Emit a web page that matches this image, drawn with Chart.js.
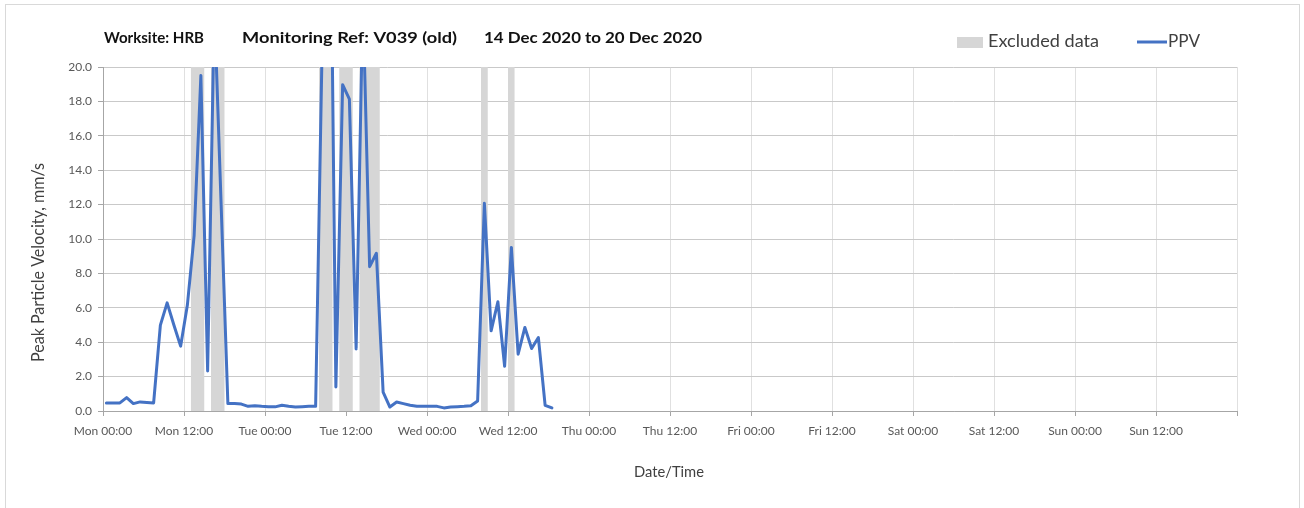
<!DOCTYPE html>
<html>
<head>
<meta charset="utf-8">
<script src="https://cdn.jsdelivr.net/npm/chart.js@4.4.1/dist/chart.umd.min.js"></script>
<style>
  html, body { margin: 0; padding: 0; background: #fff; }
  canvas { display: block; }
</style>
</head>
<body>
<canvas id="ppvChart" width="1304" height="508"></canvas>
<script>
// hours since Mon 00:00, one reading per hour taken at half past
const firstReadingHour = 0.5;
const ppvValues = [
  0.47, 0.47, 0.47, 0.78, 0.43, 0.53, 0.50, 0.47, 4.99, 6.29,
  5.00, 3.77, 6.16, 10.2, 19.5, 2.33, 23.5, 12.0, 0.43, 0.43,
  0.40, 0.27, 0.30, 0.27, 0.25, 0.24, 0.33, 0.27, 0.23, 0.25,
  0.27, 0.27, 22.0, 38.0, 1.40, 18.97, 18.13, 3.61, 24.0, 8.39,
  9.17, 1.10, 0.23, 0.52, 0.43, 0.33, 0.27, 0.27, 0.27, 0.27,
  0.18, 0.23, 0.25, 0.27, 0.30, 0.58, 12.08, 4.66, 6.35, 2.60,
  9.51, 3.30, 4.86, 3.63, 4.27, 0.33, 0.18
];

// excluded data windows (hours since Mon 00:00)
const excludedStart = [13, 16, 32, 35, 38, 56, 60];
const excludedEnd = [15, 18, 34, 37, 41, 57, 61];

const xTickLabels = [
  "Mon 00:00", "Mon 12:00", "Tue 00:00", "Tue 12:00", "Wed 00:00",
  "Wed 12:00", "Thu 00:00", "Thu 12:00", "Fri 00:00", "Fri 12:00",
  "Sat 00:00", "Sat 12:00", "Sun 00:00", "Sun 12:00", ""
];
const yMax = 20;
const yStep = 2;

const titleParts = ["Worksite: HRB", "Monitoring Ref: V039 (old)", "14 Dec 2020 to 20 Dec 2020"];

const FONT = "Lato, 'Open Sans', sans-serif";

const ppvPoints = ppvValues.map((v, i) => ({ x: firstReadingHour + i, y: v }));

const bandPoints = [];
excludedStart.forEach((s, i) => {
  bandPoints.push({ x: s, y: yMax });
  bandPoints.push({ x: excludedEnd[i], y: 0 });
});

// draws text squeezed/stretched to the width it has in the original
function fitText(ctx, text, x, y, width) {
  const w = ctx.measureText(text).width;
  ctx.save();
  ctx.translate(x, y);
  ctx.scale(width / w, 1);
  ctx.fillText(text, 0, 0);
  ctx.restore();
}

// frame, title, legend and axis titles
const decorations = {
  id: "decorations",
  beforeDraw(chart) {
    const ctx = chart.ctx;
    ctx.save();
    ctx.fillStyle = "#fff";
    ctx.fillRect(0, 0, chart.width, chart.height);
    ctx.strokeStyle = "#d9d9d9";
    ctx.lineWidth = 1;
    ctx.strokeRect(5.5, 4.5, 1294, 520);
    ctx.restore();
  },
  afterDraw(chart) {
    const ctx = chart.ctx;
    ctx.save();

    ctx.fillStyle = "#111";
    ctx.font = "bold 16px " + FONT;
    ctx.textBaseline = "middle";
    ctx.textAlign = "left";
    fitText(ctx, titleParts[0], 104, 38, 100);
    fitText(ctx, titleParts[1], 242, 38, 215);
    fitText(ctx, titleParts[2], 484, 38, 218);

    // legend
    ctx.fillStyle = "#d6d6d6";
    ctx.fillRect(957, 37, 26, 11);
    ctx.fillStyle = "#404040";
    ctx.font = "17px " + FONT;
    fitText(ctx, "Excluded data", 988, 42, 111);
    ctx.strokeStyle = "#4472c4";
    ctx.lineWidth = 3;
    ctx.beginPath();
    ctx.moveTo(1137, 42);
    ctx.lineTo(1167, 42);
    ctx.stroke();
    fitText(ctx, "PPV", 1168, 42, 32);

    // axis titles
    ctx.font = "16px " + FONT;
    fitText(ctx, "Date/Time", 634, 472, 70);
    ctx.font = "17px " + FONT;
    ctx.translate(39, 362);
    ctx.rotate(-Math.PI / 2);
    fitText(ctx, "Peak Particle Velocity, mm/s", 0, 0, 199);

    ctx.restore();
  }
};

new Chart(document.getElementById("ppvChart"), {
  type: "line",
  data: {
    datasets: [
      {
        label: "PPV",
        data: ppvPoints,
        borderColor: "#4472c4",
        borderWidth: 3,
        borderJoinStyle: "round",
        borderCapStyle: "round",
        pointRadius: 0,
        tension: 0,
        fill: false,
        order: 0,
      },
      {
        label: "Excluded data",
        data: bandPoints,
        stepped: true,
        borderWidth: 0,
        borderColor: "rgba(0,0,0,0)",
        backgroundColor: "#d6d6d6",
        pointRadius: 0,
        fill: "origin",
        order: 1,
      },
    ],
  },
  options: {
    responsive: false,
    animation: false,
    layout: { padding: { left: 0, top: 67, right: 67, bottom: 0 } },
    plugins: {
      legend: { display: false },
      title: { display: false },
      tooltip: { enabled: false },
    },
    scales: {
      x: {
        type: "linear",
        min: 0,
        max: 168,
        afterFit(scale) {
          scale.height = 97;
        },
        afterBuildTicks(scale) {
          scale.ticks = xTickLabels.map((_, i) => ({ value: i * 12 }));
        },
        ticks: {
          autoSkip: false,
          maxRotation: 0,
          minRotation: 0,
          padding: 8,
          color: "#595959",
          font: { family: FONT, size: 12 },
          callback: (v) => xTickLabels[Math.round(v / 12)],
        },
        grid: {
          color: "#e0e0e0",
          tickColor: "#a6a6a6",
          tickLength: 5,
        },
        border: { color: "#a6a6a6", width: 1 },
      },
      y: {
        min: 0,
        max: yMax,
        afterFit(scale) {
          scale.width = 103;
        },
        ticks: {
          stepSize: yStep,
          padding: 6,
          color: "#595959",
          font: { family: FONT, size: 12 },
          callback: (v) => v.toFixed(1),
        },
        grid: {
          color: "#c9c9c9",
          tickColor: "#a6a6a6",
          tickLength: 5,
        },
        border: { color: "#a6a6a6", width: 1 },
      },
    },
  },
  plugins: [decorations],
});
</script>
</body>
</html>
